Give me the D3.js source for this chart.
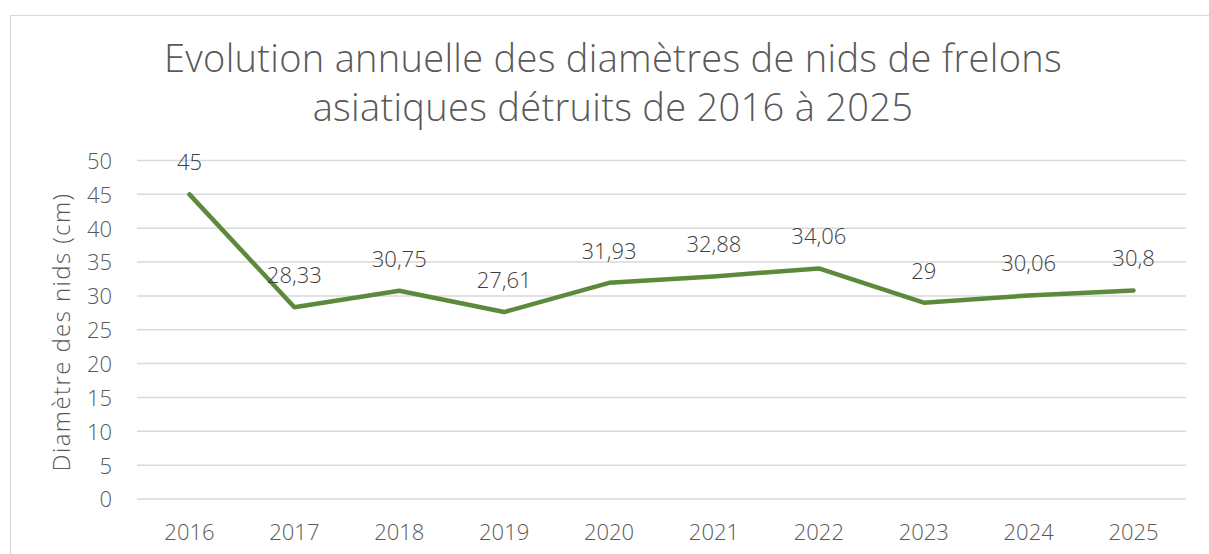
<!DOCTYPE html>
<html>
<head>
<meta charset="utf-8">
<script src="https://cdn.jsdelivr.net/npm/d3@7"></script>
<style>
  body { margin: 0; background: #fff; }
  svg text { font-family: "Open Sans", Lato, sans-serif; font-weight: 300; }
</style>
</head>
<body>
<svg id="chart" width="1209" height="554"></svg>
<script>
// data
const years = ["2016", "2017", "2018", "2019", "2020", "2021", "2022", "2023", "2024", "2025"];
const diameters = [45, 28.33, 30.75, 27.61, 31.93, 32.88, 34.06, 29, 30.06, 30.8];
const yTicks = [0, 5, 10, 15, 20, 25, 30, 35, 40, 45, 50];
const titleLines = ["Evolution annuelle des diamètres de nids de frelons", "asiatiques détruits de 2016 à 2025"];

const svg = d3.select("#chart");

// chart frame
svg.append("rect")
  .attr("x", 10.5).attr("y", 15.5)
  .attr("width", 1210).attr("height", 560)
  .attr("fill", "#fff").attr("stroke", "#d9d9d9");

const plotLeft = 137, plotRight = 1186, plotTop = 160.5, plotBottom = 499;

const x = d3.scaleBand().domain(years).range([plotLeft, plotRight]);
const y = d3.scaleLinear().domain([0, 50]).range([plotBottom, plotTop]);

// gridlines
svg.append("g")
  .selectAll("line")
  .data(yTicks)
  .join("line")
  .attr("x1", plotLeft).attr("x2", plotRight)
  .attr("y1", d => y(d)).attr("y2", d => y(d))
  .attr("stroke", "#d9d9d9").attr("stroke-width", 1.5);

// y axis labels
const yAxis = d3.axisLeft(y).tickValues(yTicks).tickSize(0).tickPadding(0);
svg.append("g")
  .attr("transform", `translate(112,0)`)
  .call(yAxis)
  .call(g => g.select(".domain").remove())
  .selectAll("text")
  .attr("fill", "#595959")
  .attr("dy", "0.36em")
  .style("font-size", "22px")
  .style("font-family", null);

// x axis labels
const xAxis = d3.axisBottom(x).tickSize(0).tickPadding(0);
svg.append("g")
  .attr("transform", `translate(0,540)`)
  .call(xAxis)
  .call(g => g.select(".domain").remove())
  .selectAll("text")
  .attr("y", 0)
  .attr("dy", null)
  .attr("fill", "#595959")
  .style("font-size", "22px")
  .style("font-family", null);

// line
const line = d3.line()
  .x((d, i) => x(years[i]) + x.bandwidth() / 2)
  .y(d => y(d));

svg.append("path")
  .datum(diameters)
  .attr("d", line)
  .attr("fill", "none")
  .attr("stroke", "#5b8a3c")
  .attr("stroke-width", 4.5)
  .attr("stroke-linejoin", "round")
  .attr("stroke-linecap", "round");

// data labels
svg.append("g")
  .selectAll("text")
  .data(diameters)
  .join("text")
  .attr("x", (d, i) => x(years[i]) + x.bandwidth() / 2)
  .attr("y", d => y(d) - 24)
  .attr("text-anchor", "middle")
  .attr("fill", "#404040")
  .style("font-size", "22px")
  .text(d => String(d).replace(".", ","));

// axis title
svg.append("text")
  .attr("transform", "translate(70,332) rotate(-90)")
  .attr("text-anchor", "middle")
  .attr("fill", "#595959")
  .style("font-size", "24px")
  .style("letter-spacing", "1.4px")
  .text("Diamètre des nids (cm)");

// chart title
svg.append("g")
  .selectAll("text")
  .data(titleLines)
  .join("text")
  .attr("x", 613)
  .attr("y", (d, i) => 72 + i * 49)
  .attr("text-anchor", "middle")
  .attr("fill", "#595959")
  .style("font-size", "38px")
  .style("letter-spacing", "0.3px")
  .text(d => d);
</script>
</body>
</html>
